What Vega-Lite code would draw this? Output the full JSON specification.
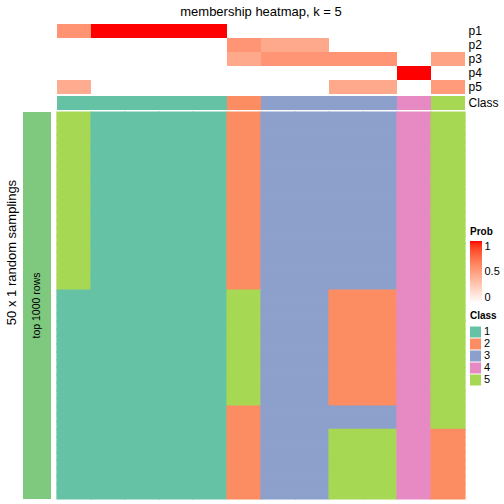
{
  "$schema": "https://vega.github.io/schema/vega-lite/v6.json",
  "background": "white",
  "padding": {"left": 5, "top": 6, "right": 0, "bottom": 0},
  "config": {
    "view": {"stroke": null},
    "font": "Liberation Sans",
    "legend": {"titleFontSize": 10, "titleFontWeight": "bold", "labelFontSize": 11, "titleColor": "black", "labelColor": "black"}
  },
  "columns": 2,
  "align": "each",
  "bounds": "flush",
  "spacing": {"row": 2, "column": 6},
  "resolve": {
    "scale": {"color": "independent", "x": "independent", "y": "independent"},
    "legend": {"color": "independent"}
  },
  "datasets": {
    "probs": [
      {"c":1,"p":"p1","v":0.56},{"c":1,"p":"p2","v":0},{"c":1,"p":"p3","v":0},{"c":1,"p":"p4","v":0},{"c":1,"p":"p5","v":0.44},
      {"c":2,"p":"p1","v":1},{"c":2,"p":"p2","v":0},{"c":2,"p":"p3","v":0},{"c":2,"p":"p4","v":0},{"c":2,"p":"p5","v":0},
      {"c":3,"p":"p1","v":1},{"c":3,"p":"p2","v":0},{"c":3,"p":"p3","v":0},{"c":3,"p":"p4","v":0},{"c":3,"p":"p5","v":0},
      {"c":4,"p":"p1","v":1},{"c":4,"p":"p2","v":0},{"c":4,"p":"p3","v":0},{"c":4,"p":"p4","v":0},{"c":4,"p":"p5","v":0},
      {"c":5,"p":"p1","v":1},{"c":5,"p":"p2","v":0},{"c":5,"p":"p3","v":0},{"c":5,"p":"p4","v":0},{"c":5,"p":"p5","v":0},
      {"c":6,"p":"p1","v":0},{"c":6,"p":"p2","v":0.55},{"c":6,"p":"p3","v":0.45},{"c":6,"p":"p4","v":0},{"c":6,"p":"p5","v":0},
      {"c":7,"p":"p1","v":0},{"c":7,"p":"p2","v":0.45},{"c":7,"p":"p3","v":0.55},{"c":7,"p":"p4","v":0},{"c":7,"p":"p5","v":0},
      {"c":8,"p":"p1","v":0},{"c":8,"p":"p2","v":0.45},{"c":8,"p":"p3","v":0.55},{"c":8,"p":"p4","v":0},{"c":8,"p":"p5","v":0},
      {"c":9,"p":"p1","v":0},{"c":9,"p":"p2","v":0},{"c":9,"p":"p3","v":0.55},{"c":9,"p":"p4","v":0},{"c":9,"p":"p5","v":0.45},
      {"c":10,"p":"p1","v":0},{"c":10,"p":"p2","v":0},{"c":10,"p":"p3","v":0.55},{"c":10,"p":"p4","v":0},{"c":10,"p":"p5","v":0.45},
      {"c":11,"p":"p1","v":0},{"c":11,"p":"p2","v":0},{"c":11,"p":"p3","v":0},{"c":11,"p":"p4","v":1},{"c":11,"p":"p5","v":0},
      {"c":12,"p":"p1","v":0},{"c":12,"p":"p2","v":0},{"c":12,"p":"p3","v":0.48},{"c":12,"p":"p4","v":0},{"c":12,"p":"p5","v":0.52}
    ],
    "classes": [
      {"c":1,"row":"Class","k":1},{"c":2,"row":"Class","k":1},{"c":3,"row":"Class","k":1},{"c":4,"row":"Class","k":1},
      {"c":5,"row":"Class","k":1},{"c":6,"row":"Class","k":2},{"c":7,"row":"Class","k":3},{"c":8,"row":"Class","k":3},
      {"c":9,"row":"Class","k":3},{"c":10,"row":"Class","k":3},{"c":11,"row":"Class","k":4},{"c":12,"row":"Class","k":5}
    ],
    "cells": [
      {"r":1,"c":1,"k":5},{"r":1,"c":2,"k":1},{"r":1,"c":3,"k":1},{"r":1,"c":4,"k":1},{"r":1,"c":5,"k":1},{"r":1,"c":6,"k":2},{"r":1,"c":7,"k":3},{"r":1,"c":8,"k":3},{"r":1,"c":9,"k":3},{"r":1,"c":10,"k":3},{"r":1,"c":11,"k":4},{"r":1,"c":12,"k":5},
      {"r":2,"c":1,"k":5},{"r":2,"c":2,"k":1},{"r":2,"c":3,"k":1},{"r":2,"c":4,"k":1},{"r":2,"c":5,"k":1},{"r":2,"c":6,"k":2},{"r":2,"c":7,"k":3},{"r":2,"c":8,"k":3},{"r":2,"c":9,"k":3},{"r":2,"c":10,"k":3},{"r":2,"c":11,"k":4},{"r":2,"c":12,"k":5},
      {"r":3,"c":1,"k":5},{"r":3,"c":2,"k":1},{"r":3,"c":3,"k":1},{"r":3,"c":4,"k":1},{"r":3,"c":5,"k":1},{"r":3,"c":6,"k":2},{"r":3,"c":7,"k":3},{"r":3,"c":8,"k":3},{"r":3,"c":9,"k":3},{"r":3,"c":10,"k":3},{"r":3,"c":11,"k":4},{"r":3,"c":12,"k":5},
      {"r":4,"c":1,"k":5},{"r":4,"c":2,"k":1},{"r":4,"c":3,"k":1},{"r":4,"c":4,"k":1},{"r":4,"c":5,"k":1},{"r":4,"c":6,"k":2},{"r":4,"c":7,"k":3},{"r":4,"c":8,"k":3},{"r":4,"c":9,"k":3},{"r":4,"c":10,"k":3},{"r":4,"c":11,"k":4},{"r":4,"c":12,"k":5},
      {"r":5,"c":1,"k":5},{"r":5,"c":2,"k":1},{"r":5,"c":3,"k":1},{"r":5,"c":4,"k":1},{"r":5,"c":5,"k":1},{"r":5,"c":6,"k":2},{"r":5,"c":7,"k":3},{"r":5,"c":8,"k":3},{"r":5,"c":9,"k":3},{"r":5,"c":10,"k":3},{"r":5,"c":11,"k":4},{"r":5,"c":12,"k":5},
      {"r":6,"c":1,"k":5},{"r":6,"c":2,"k":1},{"r":6,"c":3,"k":1},{"r":6,"c":4,"k":1},{"r":6,"c":5,"k":1},{"r":6,"c":6,"k":2},{"r":6,"c":7,"k":3},{"r":6,"c":8,"k":3},{"r":6,"c":9,"k":3},{"r":6,"c":10,"k":3},{"r":6,"c":11,"k":4},{"r":6,"c":12,"k":5},
      {"r":7,"c":1,"k":5},{"r":7,"c":2,"k":1},{"r":7,"c":3,"k":1},{"r":7,"c":4,"k":1},{"r":7,"c":5,"k":1},{"r":7,"c":6,"k":2},{"r":7,"c":7,"k":3},{"r":7,"c":8,"k":3},{"r":7,"c":9,"k":3},{"r":7,"c":10,"k":3},{"r":7,"c":11,"k":4},{"r":7,"c":12,"k":5},
      {"r":8,"c":1,"k":5},{"r":8,"c":2,"k":1},{"r":8,"c":3,"k":1},{"r":8,"c":4,"k":1},{"r":8,"c":5,"k":1},{"r":8,"c":6,"k":2},{"r":8,"c":7,"k":3},{"r":8,"c":8,"k":3},{"r":8,"c":9,"k":3},{"r":8,"c":10,"k":3},{"r":8,"c":11,"k":4},{"r":8,"c":12,"k":5},
      {"r":9,"c":1,"k":5},{"r":9,"c":2,"k":1},{"r":9,"c":3,"k":1},{"r":9,"c":4,"k":1},{"r":9,"c":5,"k":1},{"r":9,"c":6,"k":2},{"r":9,"c":7,"k":3},{"r":9,"c":8,"k":3},{"r":9,"c":9,"k":3},{"r":9,"c":10,"k":3},{"r":9,"c":11,"k":4},{"r":9,"c":12,"k":5},
      {"r":10,"c":1,"k":5},{"r":10,"c":2,"k":1},{"r":10,"c":3,"k":1},{"r":10,"c":4,"k":1},{"r":10,"c":5,"k":1},{"r":10,"c":6,"k":2},{"r":10,"c":7,"k":3},{"r":10,"c":8,"k":3},{"r":10,"c":9,"k":3},{"r":10,"c":10,"k":3},{"r":10,"c":11,"k":4},{"r":10,"c":12,"k":5},
      {"r":11,"c":1,"k":5},{"r":11,"c":2,"k":1},{"r":11,"c":3,"k":1},{"r":11,"c":4,"k":1},{"r":11,"c":5,"k":1},{"r":11,"c":6,"k":2},{"r":11,"c":7,"k":3},{"r":11,"c":8,"k":3},{"r":11,"c":9,"k":3},{"r":11,"c":10,"k":3},{"r":11,"c":11,"k":4},{"r":11,"c":12,"k":5},
      {"r":12,"c":1,"k":5},{"r":12,"c":2,"k":1},{"r":12,"c":3,"k":1},{"r":12,"c":4,"k":1},{"r":12,"c":5,"k":1},{"r":12,"c":6,"k":2},{"r":12,"c":7,"k":3},{"r":12,"c":8,"k":3},{"r":12,"c":9,"k":3},{"r":12,"c":10,"k":3},{"r":12,"c":11,"k":4},{"r":12,"c":12,"k":5},
      {"r":13,"c":1,"k":5},{"r":13,"c":2,"k":1},{"r":13,"c":3,"k":1},{"r":13,"c":4,"k":1},{"r":13,"c":5,"k":1},{"r":13,"c":6,"k":2},{"r":13,"c":7,"k":3},{"r":13,"c":8,"k":3},{"r":13,"c":9,"k":3},{"r":13,"c":10,"k":3},{"r":13,"c":11,"k":4},{"r":13,"c":12,"k":5},
      {"r":14,"c":1,"k":5},{"r":14,"c":2,"k":1},{"r":14,"c":3,"k":1},{"r":14,"c":4,"k":1},{"r":14,"c":5,"k":1},{"r":14,"c":6,"k":2},{"r":14,"c":7,"k":3},{"r":14,"c":8,"k":3},{"r":14,"c":9,"k":3},{"r":14,"c":10,"k":3},{"r":14,"c":11,"k":4},{"r":14,"c":12,"k":5},
      {"r":15,"c":1,"k":5},{"r":15,"c":2,"k":1},{"r":15,"c":3,"k":1},{"r":15,"c":4,"k":1},{"r":15,"c":5,"k":1},{"r":15,"c":6,"k":2},{"r":15,"c":7,"k":3},{"r":15,"c":8,"k":3},{"r":15,"c":9,"k":3},{"r":15,"c":10,"k":3},{"r":15,"c":11,"k":4},{"r":15,"c":12,"k":5},
      {"r":16,"c":1,"k":5},{"r":16,"c":2,"k":1},{"r":16,"c":3,"k":1},{"r":16,"c":4,"k":1},{"r":16,"c":5,"k":1},{"r":16,"c":6,"k":2},{"r":16,"c":7,"k":3},{"r":16,"c":8,"k":3},{"r":16,"c":9,"k":3},{"r":16,"c":10,"k":3},{"r":16,"c":11,"k":4},{"r":16,"c":12,"k":5},
      {"r":17,"c":1,"k":5},{"r":17,"c":2,"k":1},{"r":17,"c":3,"k":1},{"r":17,"c":4,"k":1},{"r":17,"c":5,"k":1},{"r":17,"c":6,"k":2},{"r":17,"c":7,"k":3},{"r":17,"c":8,"k":3},{"r":17,"c":9,"k":3},{"r":17,"c":10,"k":3},{"r":17,"c":11,"k":4},{"r":17,"c":12,"k":5},
      {"r":18,"c":1,"k":5},{"r":18,"c":2,"k":1},{"r":18,"c":3,"k":1},{"r":18,"c":4,"k":1},{"r":18,"c":5,"k":1},{"r":18,"c":6,"k":2},{"r":18,"c":7,"k":3},{"r":18,"c":8,"k":3},{"r":18,"c":9,"k":3},{"r":18,"c":10,"k":3},{"r":18,"c":11,"k":4},{"r":18,"c":12,"k":5},
      {"r":19,"c":1,"k":5},{"r":19,"c":2,"k":1},{"r":19,"c":3,"k":1},{"r":19,"c":4,"k":1},{"r":19,"c":5,"k":1},{"r":19,"c":6,"k":2},{"r":19,"c":7,"k":3},{"r":19,"c":8,"k":3},{"r":19,"c":9,"k":3},{"r":19,"c":10,"k":3},{"r":19,"c":11,"k":4},{"r":19,"c":12,"k":5},
      {"r":20,"c":1,"k":5},{"r":20,"c":2,"k":1},{"r":20,"c":3,"k":1},{"r":20,"c":4,"k":1},{"r":20,"c":5,"k":1},{"r":20,"c":6,"k":2},{"r":20,"c":7,"k":3},{"r":20,"c":8,"k":3},{"r":20,"c":9,"k":3},{"r":20,"c":10,"k":3},{"r":20,"c":11,"k":4},{"r":20,"c":12,"k":5},
      {"r":21,"c":1,"k":5},{"r":21,"c":2,"k":1},{"r":21,"c":3,"k":1},{"r":21,"c":4,"k":1},{"r":21,"c":5,"k":1},{"r":21,"c":6,"k":2},{"r":21,"c":7,"k":3},{"r":21,"c":8,"k":3},{"r":21,"c":9,"k":3},{"r":21,"c":10,"k":3},{"r":21,"c":11,"k":4},{"r":21,"c":12,"k":5},
      {"r":22,"c":1,"k":5},{"r":22,"c":2,"k":1},{"r":22,"c":3,"k":1},{"r":22,"c":4,"k":1},{"r":22,"c":5,"k":1},{"r":22,"c":6,"k":2},{"r":22,"c":7,"k":3},{"r":22,"c":8,"k":3},{"r":22,"c":9,"k":3},{"r":22,"c":10,"k":3},{"r":22,"c":11,"k":4},{"r":22,"c":12,"k":5},
      {"r":23,"c":1,"k":5},{"r":23,"c":2,"k":1},{"r":23,"c":3,"k":1},{"r":23,"c":4,"k":1},{"r":23,"c":5,"k":1},{"r":23,"c":6,"k":2},{"r":23,"c":7,"k":3},{"r":23,"c":8,"k":3},{"r":23,"c":9,"k":3},{"r":23,"c":10,"k":3},{"r":23,"c":11,"k":4},{"r":23,"c":12,"k":5},
      {"r":24,"c":1,"k":1},{"r":24,"c":2,"k":1},{"r":24,"c":3,"k":1},{"r":24,"c":4,"k":1},{"r":24,"c":5,"k":1},{"r":24,"c":6,"k":5},{"r":24,"c":7,"k":3},{"r":24,"c":8,"k":3},{"r":24,"c":9,"k":2},{"r":24,"c":10,"k":2},{"r":24,"c":11,"k":4},{"r":24,"c":12,"k":5},
      {"r":25,"c":1,"k":1},{"r":25,"c":2,"k":1},{"r":25,"c":3,"k":1},{"r":25,"c":4,"k":1},{"r":25,"c":5,"k":1},{"r":25,"c":6,"k":5},{"r":25,"c":7,"k":3},{"r":25,"c":8,"k":3},{"r":25,"c":9,"k":2},{"r":25,"c":10,"k":2},{"r":25,"c":11,"k":4},{"r":25,"c":12,"k":5},
      {"r":26,"c":1,"k":1},{"r":26,"c":2,"k":1},{"r":26,"c":3,"k":1},{"r":26,"c":4,"k":1},{"r":26,"c":5,"k":1},{"r":26,"c":6,"k":5},{"r":26,"c":7,"k":3},{"r":26,"c":8,"k":3},{"r":26,"c":9,"k":2},{"r":26,"c":10,"k":2},{"r":26,"c":11,"k":4},{"r":26,"c":12,"k":5},
      {"r":27,"c":1,"k":1},{"r":27,"c":2,"k":1},{"r":27,"c":3,"k":1},{"r":27,"c":4,"k":1},{"r":27,"c":5,"k":1},{"r":27,"c":6,"k":5},{"r":27,"c":7,"k":3},{"r":27,"c":8,"k":3},{"r":27,"c":9,"k":2},{"r":27,"c":10,"k":2},{"r":27,"c":11,"k":4},{"r":27,"c":12,"k":5},
      {"r":28,"c":1,"k":1},{"r":28,"c":2,"k":1},{"r":28,"c":3,"k":1},{"r":28,"c":4,"k":1},{"r":28,"c":5,"k":1},{"r":28,"c":6,"k":5},{"r":28,"c":7,"k":3},{"r":28,"c":8,"k":3},{"r":28,"c":9,"k":2},{"r":28,"c":10,"k":2},{"r":28,"c":11,"k":4},{"r":28,"c":12,"k":5},
      {"r":29,"c":1,"k":1},{"r":29,"c":2,"k":1},{"r":29,"c":3,"k":1},{"r":29,"c":4,"k":1},{"r":29,"c":5,"k":1},{"r":29,"c":6,"k":5},{"r":29,"c":7,"k":3},{"r":29,"c":8,"k":3},{"r":29,"c":9,"k":2},{"r":29,"c":10,"k":2},{"r":29,"c":11,"k":4},{"r":29,"c":12,"k":5},
      {"r":30,"c":1,"k":1},{"r":30,"c":2,"k":1},{"r":30,"c":3,"k":1},{"r":30,"c":4,"k":1},{"r":30,"c":5,"k":1},{"r":30,"c":6,"k":5},{"r":30,"c":7,"k":3},{"r":30,"c":8,"k":3},{"r":30,"c":9,"k":2},{"r":30,"c":10,"k":2},{"r":30,"c":11,"k":4},{"r":30,"c":12,"k":5},
      {"r":31,"c":1,"k":1},{"r":31,"c":2,"k":1},{"r":31,"c":3,"k":1},{"r":31,"c":4,"k":1},{"r":31,"c":5,"k":1},{"r":31,"c":6,"k":5},{"r":31,"c":7,"k":3},{"r":31,"c":8,"k":3},{"r":31,"c":9,"k":2},{"r":31,"c":10,"k":2},{"r":31,"c":11,"k":4},{"r":31,"c":12,"k":5},
      {"r":32,"c":1,"k":1},{"r":32,"c":2,"k":1},{"r":32,"c":3,"k":1},{"r":32,"c":4,"k":1},{"r":32,"c":5,"k":1},{"r":32,"c":6,"k":5},{"r":32,"c":7,"k":3},{"r":32,"c":8,"k":3},{"r":32,"c":9,"k":2},{"r":32,"c":10,"k":2},{"r":32,"c":11,"k":4},{"r":32,"c":12,"k":5},
      {"r":33,"c":1,"k":1},{"r":33,"c":2,"k":1},{"r":33,"c":3,"k":1},{"r":33,"c":4,"k":1},{"r":33,"c":5,"k":1},{"r":33,"c":6,"k":5},{"r":33,"c":7,"k":3},{"r":33,"c":8,"k":3},{"r":33,"c":9,"k":2},{"r":33,"c":10,"k":2},{"r":33,"c":11,"k":4},{"r":33,"c":12,"k":5},
      {"r":34,"c":1,"k":1},{"r":34,"c":2,"k":1},{"r":34,"c":3,"k":1},{"r":34,"c":4,"k":1},{"r":34,"c":5,"k":1},{"r":34,"c":6,"k":5},{"r":34,"c":7,"k":3},{"r":34,"c":8,"k":3},{"r":34,"c":9,"k":2},{"r":34,"c":10,"k":2},{"r":34,"c":11,"k":4},{"r":34,"c":12,"k":5},
      {"r":35,"c":1,"k":1},{"r":35,"c":2,"k":1},{"r":35,"c":3,"k":1},{"r":35,"c":4,"k":1},{"r":35,"c":5,"k":1},{"r":35,"c":6,"k":5},{"r":35,"c":7,"k":3},{"r":35,"c":8,"k":3},{"r":35,"c":9,"k":2},{"r":35,"c":10,"k":2},{"r":35,"c":11,"k":4},{"r":35,"c":12,"k":5},
      {"r":36,"c":1,"k":1},{"r":36,"c":2,"k":1},{"r":36,"c":3,"k":1},{"r":36,"c":4,"k":1},{"r":36,"c":5,"k":1},{"r":36,"c":6,"k":5},{"r":36,"c":7,"k":3},{"r":36,"c":8,"k":3},{"r":36,"c":9,"k":2},{"r":36,"c":10,"k":2},{"r":36,"c":11,"k":4},{"r":36,"c":12,"k":5},
      {"r":37,"c":1,"k":1},{"r":37,"c":2,"k":1},{"r":37,"c":3,"k":1},{"r":37,"c":4,"k":1},{"r":37,"c":5,"k":1},{"r":37,"c":6,"k":5},{"r":37,"c":7,"k":3},{"r":37,"c":8,"k":3},{"r":37,"c":9,"k":2},{"r":37,"c":10,"k":2},{"r":37,"c":11,"k":4},{"r":37,"c":12,"k":5},
      {"r":38,"c":1,"k":1},{"r":38,"c":2,"k":1},{"r":38,"c":3,"k":1},{"r":38,"c":4,"k":1},{"r":38,"c":5,"k":1},{"r":38,"c":6,"k":5},{"r":38,"c":7,"k":3},{"r":38,"c":8,"k":3},{"r":38,"c":9,"k":2},{"r":38,"c":10,"k":2},{"r":38,"c":11,"k":4},{"r":38,"c":12,"k":5},
      {"r":39,"c":1,"k":1},{"r":39,"c":2,"k":1},{"r":39,"c":3,"k":1},{"r":39,"c":4,"k":1},{"r":39,"c":5,"k":1},{"r":39,"c":6,"k":2},{"r":39,"c":7,"k":3},{"r":39,"c":8,"k":3},{"r":39,"c":9,"k":3},{"r":39,"c":10,"k":3},{"r":39,"c":11,"k":4},{"r":39,"c":12,"k":5},
      {"r":40,"c":1,"k":1},{"r":40,"c":2,"k":1},{"r":40,"c":3,"k":1},{"r":40,"c":4,"k":1},{"r":40,"c":5,"k":1},{"r":40,"c":6,"k":2},{"r":40,"c":7,"k":3},{"r":40,"c":8,"k":3},{"r":40,"c":9,"k":3},{"r":40,"c":10,"k":3},{"r":40,"c":11,"k":4},{"r":40,"c":12,"k":5},
      {"r":41,"c":1,"k":1},{"r":41,"c":2,"k":1},{"r":41,"c":3,"k":1},{"r":41,"c":4,"k":1},{"r":41,"c":5,"k":1},{"r":41,"c":6,"k":2},{"r":41,"c":7,"k":3},{"r":41,"c":8,"k":3},{"r":41,"c":9,"k":3},{"r":41,"c":10,"k":3},{"r":41,"c":11,"k":4},{"r":41,"c":12,"k":5},
      {"r":42,"c":1,"k":1},{"r":42,"c":2,"k":1},{"r":42,"c":3,"k":1},{"r":42,"c":4,"k":1},{"r":42,"c":5,"k":1},{"r":42,"c":6,"k":2},{"r":42,"c":7,"k":3},{"r":42,"c":8,"k":3},{"r":42,"c":9,"k":5},{"r":42,"c":10,"k":5},{"r":42,"c":11,"k":4},{"r":42,"c":12,"k":2},
      {"r":43,"c":1,"k":1},{"r":43,"c":2,"k":1},{"r":43,"c":3,"k":1},{"r":43,"c":4,"k":1},{"r":43,"c":5,"k":1},{"r":43,"c":6,"k":2},{"r":43,"c":7,"k":3},{"r":43,"c":8,"k":3},{"r":43,"c":9,"k":5},{"r":43,"c":10,"k":5},{"r":43,"c":11,"k":4},{"r":43,"c":12,"k":2},
      {"r":44,"c":1,"k":1},{"r":44,"c":2,"k":1},{"r":44,"c":3,"k":1},{"r":44,"c":4,"k":1},{"r":44,"c":5,"k":1},{"r":44,"c":6,"k":2},{"r":44,"c":7,"k":3},{"r":44,"c":8,"k":3},{"r":44,"c":9,"k":5},{"r":44,"c":10,"k":5},{"r":44,"c":11,"k":4},{"r":44,"c":12,"k":2},
      {"r":45,"c":1,"k":1},{"r":45,"c":2,"k":1},{"r":45,"c":3,"k":1},{"r":45,"c":4,"k":1},{"r":45,"c":5,"k":1},{"r":45,"c":6,"k":2},{"r":45,"c":7,"k":3},{"r":45,"c":8,"k":3},{"r":45,"c":9,"k":5},{"r":45,"c":10,"k":5},{"r":45,"c":11,"k":4},{"r":45,"c":12,"k":2},
      {"r":46,"c":1,"k":1},{"r":46,"c":2,"k":1},{"r":46,"c":3,"k":1},{"r":46,"c":4,"k":1},{"r":46,"c":5,"k":1},{"r":46,"c":6,"k":2},{"r":46,"c":7,"k":3},{"r":46,"c":8,"k":3},{"r":46,"c":9,"k":5},{"r":46,"c":10,"k":5},{"r":46,"c":11,"k":4},{"r":46,"c":12,"k":2},
      {"r":47,"c":1,"k":1},{"r":47,"c":2,"k":1},{"r":47,"c":3,"k":1},{"r":47,"c":4,"k":1},{"r":47,"c":5,"k":1},{"r":47,"c":6,"k":2},{"r":47,"c":7,"k":3},{"r":47,"c":8,"k":3},{"r":47,"c":9,"k":5},{"r":47,"c":10,"k":5},{"r":47,"c":11,"k":4},{"r":47,"c":12,"k":2},
      {"r":48,"c":1,"k":1},{"r":48,"c":2,"k":1},{"r":48,"c":3,"k":1},{"r":48,"c":4,"k":1},{"r":48,"c":5,"k":1},{"r":48,"c":6,"k":2},{"r":48,"c":7,"k":3},{"r":48,"c":8,"k":3},{"r":48,"c":9,"k":5},{"r":48,"c":10,"k":5},{"r":48,"c":11,"k":4},{"r":48,"c":12,"k":2},
      {"r":49,"c":1,"k":1},{"r":49,"c":2,"k":1},{"r":49,"c":3,"k":1},{"r":49,"c":4,"k":1},{"r":49,"c":5,"k":1},{"r":49,"c":6,"k":2},{"r":49,"c":7,"k":3},{"r":49,"c":8,"k":3},{"r":49,"c":9,"k":5},{"r":49,"c":10,"k":5},{"r":49,"c":11,"k":4},{"r":49,"c":12,"k":2},
      {"r":50,"c":1,"k":1},{"r":50,"c":2,"k":1},{"r":50,"c":3,"k":1},{"r":50,"c":4,"k":1},{"r":50,"c":5,"k":1},{"r":50,"c":6,"k":2},{"r":50,"c":7,"k":3},{"r":50,"c":8,"k":3},{"r":50,"c":9,"k":5},{"r":50,"c":10,"k":5},{"r":50,"c":11,"k":4},{"r":50,"c":12,"k":2}
    ],
    "bar": [{"label": "top 1000 rows"}]
  },
  "concat": [
    {
      "width": 28, "height": 70,
      "data": {"values": []},
      "mark": "rect"
    },
    {
      "width": 408, "height": 70,
      "title": {"text": "membership heatmap, k = 5", "fontSize": 13, "fontWeight": "normal", "anchor": "middle", "offset": 5, "color": "black"},
      "data": {"name": "probs"},
      "mark": {"type": "rect"},
      "encoding": {
        "x": {"field": "c", "type": "ordinal", "axis": null, "scale": {"paddingInner": 0, "paddingOuter": 0}},
        "y": {"field": "p", "type": "nominal", "scale": {"domain": ["p1","p2","p3","p4","p5"], "paddingInner": 0, "paddingOuter": 0},
              "axis": {"orient": "right", "title": null, "ticks": false, "domain": false, "labelFontSize": 12, "labelPadding": 3, "labelColor": "black"}},
        "color": {"field": "v", "type": "quantitative",
                  "scale": {"domain": [0, 1], "range": ["#FFFFFF", "#FF0000"], "interpolate": "lab"},
                  "legend": {"title": "Prob", "orient": "none", "legendX": 413, "legendY": 203, "direction": "vertical", "format": ".1~f",
                             "gradientLength": 62, "gradientThickness": 12, "values": [0, 0.5, 1], "titlePadding": 4, "labelOffset": 2.5}}
      }
    },
    {
      "width": 28, "height": 14,
      "data": {"values": []},
      "mark": "rect"
    },
    {
      "width": 408, "height": 14,
      "data": {"name": "classes"},
      "mark": {"type": "rect"},
      "encoding": {
        "x": {"field": "c", "type": "ordinal", "axis": null, "scale": {"paddingInner": 0, "paddingOuter": 0}},
        "y": {"field": "row", "type": "nominal", "scale": {"paddingInner": 0, "paddingOuter": 0},
              "axis": {"orient": "right", "title": null, "ticks": false, "domain": false, "labelFontSize": 12, "labelPadding": 3, "labelColor": "black"}},
        "color": {"field": "k", "type": "nominal",
                  "scale": {"domain": [1,2,3,4,5], "range": ["#66C2A5","#FC8D62","#8DA0CB","#E78AC3","#A6D854"]},
                  "legend": {"title": "Class", "orient": "none", "legendX": 413, "legendY": 215, "direction": "vertical",
                             "symbolType": "square", "symbolSize": 121, "symbolStrokeWidth": 0, "symbolOpacity": 1,
                             "rowPadding": 0, "titlePadding": 5.5, "labelOffset": 3}}
      }
    },
    {
      "width": 28, "height": 387,
      "data": {"name": "bar"},
      "title": {"text": "50 x 1 random samplings", "orient": "left", "anchor": "middle", "fontSize": 13, "fontWeight": "normal", "offset": 4, "dx": 53, "color": "black"},
      "layer": [
        {"mark": {"type": "rect", "color": "#7FC97F"}, "encoding": {}},
        {"mark": {"type": "text", "angle": 270, "fontSize": 10.5, "color": "black"}, "encoding": {"text": {"field": "label"}}}
      ]
    },
    {
      "width": 408, "height": 387,
      "data": {"name": "cells"},
      "mark": {"type": "rect", "strokeWidth": 1.2},
      "encoding": {
        "x": {"field": "c", "type": "ordinal", "axis": null, "scale": {"paddingInner": 0, "paddingOuter": 0}},
        "y": {"field": "r", "type": "ordinal", "axis": null, "scale": {"paddingInner": 0, "paddingOuter": 0}},
        "color": {"field": "k", "type": "nominal",
                  "scale": {"domain": [1,2,3,4,5], "range": ["#66C2A5","#FC8D62","#8DA0CB","#E78AC3","#A6D854"]},
                  "legend": null},
        "stroke": {"field": "k", "type": "nominal",
                   "scale": {"domain": [1,2,3,4,5], "range": ["#66C2A5","#FC8D62","#8DA0CB","#E78AC3","#A6D854"]},
                   "legend": null}
      }
    }
  ]
}
